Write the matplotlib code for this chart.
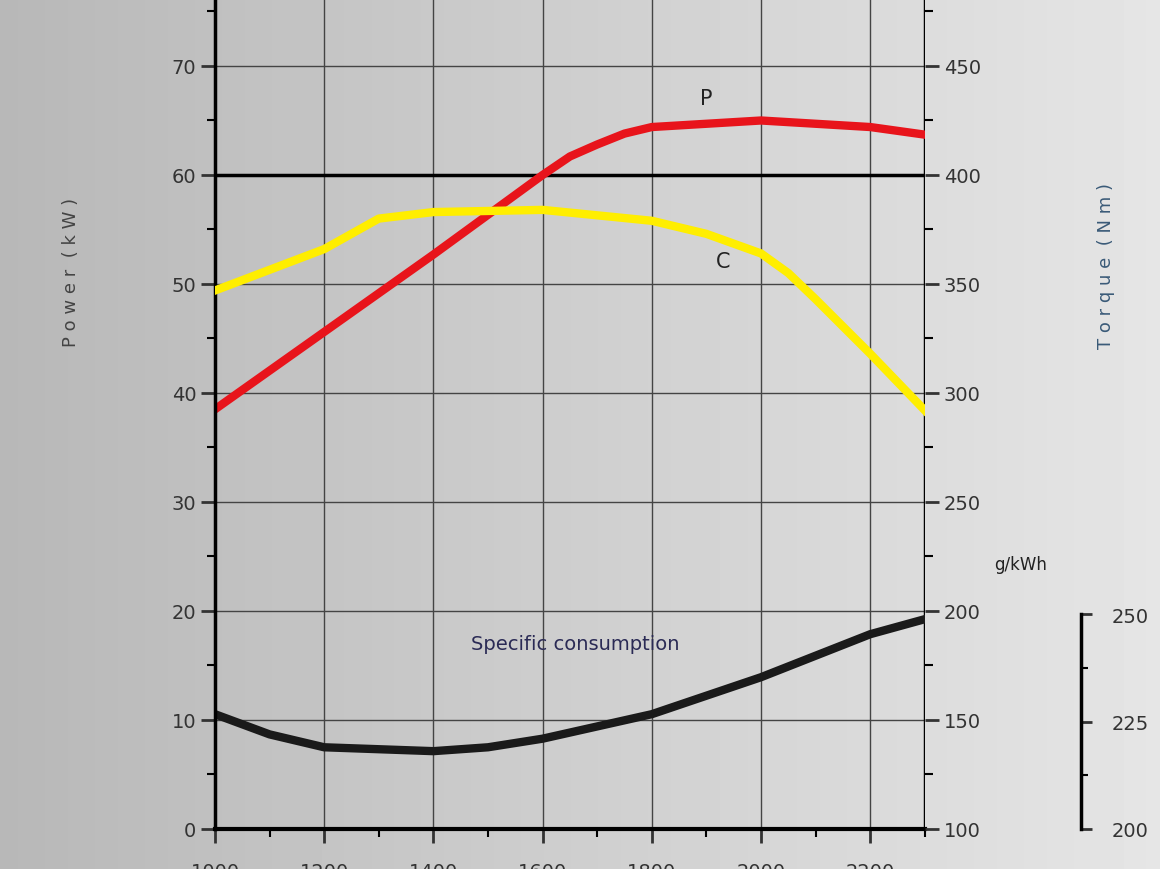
import numpy as np
import matplotlib.pyplot as plt
from matplotlib.ticker import MultipleLocator

rpm = [1000, 1200, 1400, 1600, 1650, 1700, 1750, 1800, 2000, 2200, 2300]
power_kw = [38.5, 45.6, 52.7, 60.0, 61.7, 62.8, 63.8, 64.4, 65.0, 64.4, 63.7]

rpm_c = [1000, 1200, 1300, 1400, 1600, 1800, 1900, 2000, 2050, 2100, 2200, 2300]
torque_nm = [347, 366, 380, 383, 384, 379, 373, 364, 355, 343, 318, 292]

rpm_s = [1000, 1100, 1200, 1400, 1500, 1600, 1800, 2000, 2200, 2300]
consumption = [226.7, 222.0, 219.0, 218.1, 219.0, 221.0, 226.7, 235.3, 245.3, 248.8]

fig = plt.figure(figsize=(11.6, 8.7), dpi=100)

# grey gradient background
bg = fig.add_axes([0, 0, 1, 1], zorder=-10)
grad = np.linspace(0.72, 0.90, 256).reshape(1, -1)
bg.imshow(grad, aspect="auto", cmap="gray", vmin=0, vmax=1, extent=[0, 1, 0, 1])
bg.axis("off")

ax = fig.add_axes([0.1853, 0.046, 0.612, 0.954])
ax.patch.set_alpha(0)
ymax = 830 / 10.9
ax.set_xlim(1000, 2300)
ax.set_ylim(0, ymax)
ax.set_xticks([1000, 1200, 1400, 1600, 1800, 2000, 2200])
ax.xaxis.set_minor_locator(MultipleLocator(100))
ax.yaxis.set_major_locator(MultipleLocator(10))
ax.yaxis.set_minor_locator(MultipleLocator(5))
ax.grid(True, which="major", color="#444444", linewidth=1.0)
ax.axhline(60, color="black", linewidth=2.5)
for s in ["top", "right"]:
    ax.spines[s].set_visible(False)
ax.spines["left"].set_linewidth(2.5)
ax.spines["bottom"].set_linewidth(3)
ax.axvline(2300, color="black", linewidth=2.5)
ax.tick_params(axis="both", which="major", length=10, width=2, labelsize=14, colors="#333333")
ax.tick_params(axis="both", which="minor", length=6, width=1.5)
ax.tick_params(axis="x", pad=14)
ax.set_ylabel("P o w e r  ( k W )", fontsize=13, color="#444444")
ax.yaxis.set_label_coords(-0.19, 0.672)

ax.plot(rpm, power_kw, color="#e8141b", linewidth=6)
ax.text(1900, 66.5, "P", fontsize=15, color="#222222", ha="center")

ax2 = ax.twinx()
ax2.set_ylim(100, 100 + 5 * ymax)
ax2.yaxis.set_major_locator(MultipleLocator(50))
ax2.yaxis.set_minor_locator(MultipleLocator(25))
for s in ["top", "left", "bottom", "right"]:
    ax2.spines[s].set_visible(False)
ax2.tick_params(axis="y", which="major", length=10, width=2, labelsize=14, colors="#333333")
ax2.tick_params(axis="y", which="minor", length=6, width=1.5)
ax2.set_ylabel("T o r q u e  ( N m )", fontsize=13, color="#3a5a78")
ax2.yaxis.set_label_coords(1.242, 0.68)
ax2.plot(rpm_c, torque_nm, color="#ffee00", linewidth=6)
ax2.text(1930, 358, "C", fontsize=15, color="#222222", ha="center")

ax3 = fig.add_axes([0.9315, 0.046, 0.01, 0.247])
ax3.patch.set_alpha(0)
ax3.set_ylim(200, 250)
ax3.set_yticks([200, 225, 250])
ax3.yaxis.set_minor_locator(MultipleLocator(12.5))
ax3.set_xticks([])
ax3.set_xlim(0, 1)
for s in ["top", "right", "bottom"]:
    ax3.spines[s].set_visible(False)
ax3.spines["left"].set_linewidth(2.5)
ax3.yaxis.set_ticks_position("left")
ax3.tick_params(axis="y", which="major", direction="in", length=8, width=2, labelsize=14,
                colors="#333333", pad=14, labelleft=False, labelright=True)
ax3.tick_params(axis="y", which="minor", direction="in", length=5, width=1.5)

# consumption curve on the g/kWh scale, mapped onto main axes
cons_y = [(c - 200) / 50 * (215 / 10.9) for c in consumption]
ax.plot(rpm_s, cons_y, color="#1a1a1a", linewidth=6)
ax.text(1660, 16.5, "Specific consumption", fontsize=14, color="#2a2a55", ha="center")
fig.text(0.88, 0.345, "g/kWh", fontsize=12, color="#222222", ha="center")

fig.savefig("out.png", dpi=100)
